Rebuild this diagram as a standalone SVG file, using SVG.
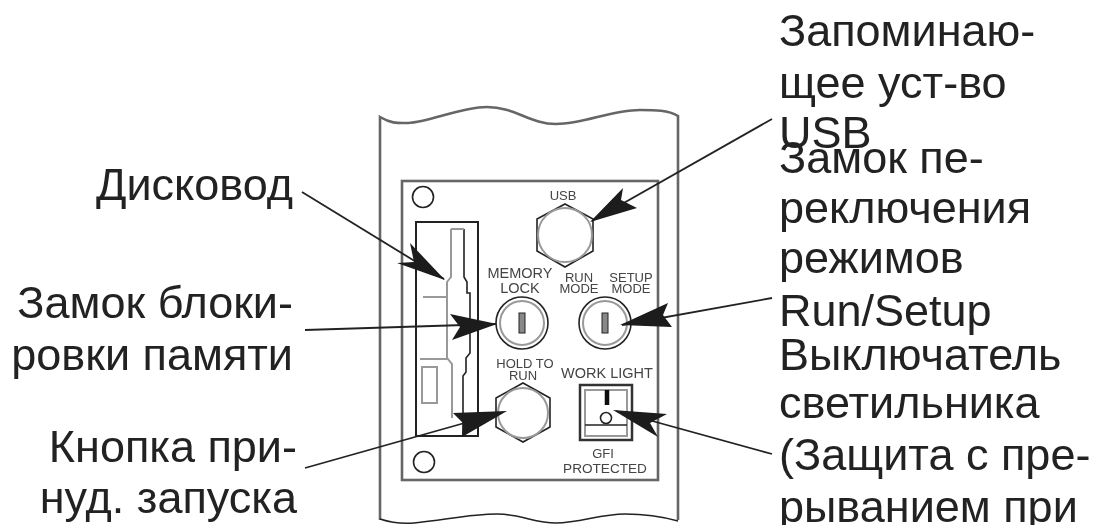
<svg xmlns="http://www.w3.org/2000/svg" width="1101" height="525" viewBox="0 0 1101 525">
<style>
.l{font-family:"Liberation Sans",Arial,sans-serif;font-size:45px;fill:#222}
.e{text-anchor:end}
.s{font-family:"Liberation Sans",Arial,sans-serif;font-size:13px;fill:#444;text-anchor:middle}
.b{font-size:14.5px}
.p{fill:none;stroke:#666;stroke-width:2.6}
.k{fill:none;stroke:#222;stroke-width:1.6}
.g{fill:none;stroke:#999;stroke-width:2}
.c{fill:none;stroke:#222;stroke-width:1.8}
.h{fill:#1a1a1a}
</style>
<defs><filter id="soft" x="0" y="0" width="100%" height="100%"><feGaussianBlur stdDeviation="0.55"/></filter></defs>
<rect width="1101" height="525" fill="#fff"/>
<g filter="url(#soft)">
<g id="panel">
<path class="p" d="M380 520V117C392 124 398 123 408 123C430 122 460 107 487 107C515 107 530 124 556 124C585 124 610 110 640 110C655 110 668 110 678 116V520"/>
<path class="k" d="M380 519C392 523 402 524 414 523C445 520 470 514 497 514C520 514 535 523 556 523C580 523 600 514 625 514C645 514 660 516 678 521"/>
<rect class="p" x="402" y="181" width="256" height="299"/>
<circle class="k" cx="423" cy="197" r="10.5"/>
<circle class="k" cx="424" cy="462" r="10.5"/>
</g>
<g id="disk-drive">
<rect x="416" y="222" width="62" height="214" fill="none" stroke="#222" stroke-width="2"/>
<path class="g" d="M451 229V277L447 282V358L452 364V418"/>
<path class="k" d="M464 229V277L467 282V293H470V353L466 358V372L463 376V436"/>
<path class="g" d="M451 229H464M423 297H447M420 359H447"/>
<rect class="g" x="422" y="367" width="15" height="36"/>
</g>
<g id="usb">
<text class="s" x="563" y="200">USB</text>
<path class="k" d="M565 204L593 219V251L565 267L537 251V219Z"/>
<circle class="g" cx="565" cy="235" r="27"/>
</g>
<g id="memory-lock">
<text class="s b" x="520" y="278">MEMORY</text>
<text class="s b" x="520" y="293">LOCK</text>
<circle class="k" cx="522" cy="323" r="26"/>
<circle class="g" cx="522" cy="323" r="22"/>
<rect x="519" y="313" width="6" height="20" fill="#888" stroke="#222"/>
</g>
<g id="setup-mode">
<text class="s" x="579" y="282">RUN</text>
<text class="s" x="579" y="293">MODE</text>
<text class="s" x="631" y="282">SETUP</text>
<text class="s" x="631" y="293">MODE</text>
<circle class="k" cx="605" cy="323" r="26"/>
<circle class="g" cx="605" cy="323" r="22"/>
<rect x="602" y="313" width="6" height="20" fill="#888" stroke="#222"/>
</g>
<g id="hold-to-run">
<text class="s" x="525" y="368">HOLD TO</text>
<text class="s" x="523" y="380">RUN</text>
<path class="k" d="M523 383L550 398V427L523 442L496 427V398Z"/>
<circle class="g" cx="523" cy="413" r="25"/>
</g>
<g id="work-light">
<text class="s b" x="607" y="378">WORK LIGHT</text>
<rect x="580" y="385" width="52" height="55" fill="none" stroke="#333" stroke-width="2.5"/>
<rect class="g" x="585" y="390" width="42" height="46"/>
<path d="M607 390V405" stroke="#111" stroke-width="4.5"/>
<circle class="k" cx="606" cy="418" r="5.5"/>
<path class="k" d="M585 425H627"/>
<text class="s" x="603" y="458">GFI</text>
<text class="s" x="605" y="473" style="font-size:13.6px">PROTECTED</text>
</g>
<g id="connectors">
<path class="c" d="M302 192L444 279"/>
<path class="h" d="M445 280L397 263L414 262L410 243Z"/>
<path class="c" d="M305 330L496 324"/>
<path class="h" d="M497 324L452 340L460 327L450 314Z"/>
<path class="c" d="M305 468L500 413"/>
<path class="h" d="M507 411L462 437L463 423L453 413Z"/>
<path class="c" d="M772 119L592 221"/>
<path class="h" d="M590 222L623 188L621 200L637 208Z"/>
<path class="c" d="M772 298L622 325"/>
<path class="h" d="M620 325L668 303L663 315L672 327Z"/>
<path class="c" d="M772 454L616 411"/>
<path class="h" d="M613 410L667 414L650 423L658 437Z"/>
</g>
<g id="labels">
<text class="l e" x="293" y="200">Дисковод</text>
<text class="l e" x="293" y="318">Замок блоки-</text>
<text class="l e" x="293" y="370">ровки памяти</text>
<text class="l e" x="297" y="462">Кнопка при-</text>
<text class="l e" x="297" y="513">нуд. запуска</text>
<text class="l" x="779" y="46">Запоминаю-</text>
<text class="l" x="779" y="98">щее уст-во</text>
<text class="l" x="779" y="148">USB</text>
<text class="l" x="779" y="173">Замок пе-</text>
<text class="l" x="779" y="223">реключения</text>
<text class="l" x="779" y="273">режимов</text>
<text class="l" x="779" y="326">Run/Setup</text>
<text class="l" x="779" y="370">Выключатель</text>
<text class="l" x="779" y="418">светильника</text>
<text class="l" x="779" y="470">(Защита с пре-</text>
<text class="l" x="779" y="522">рыванием при</text>
</g>
</g>
</svg>
